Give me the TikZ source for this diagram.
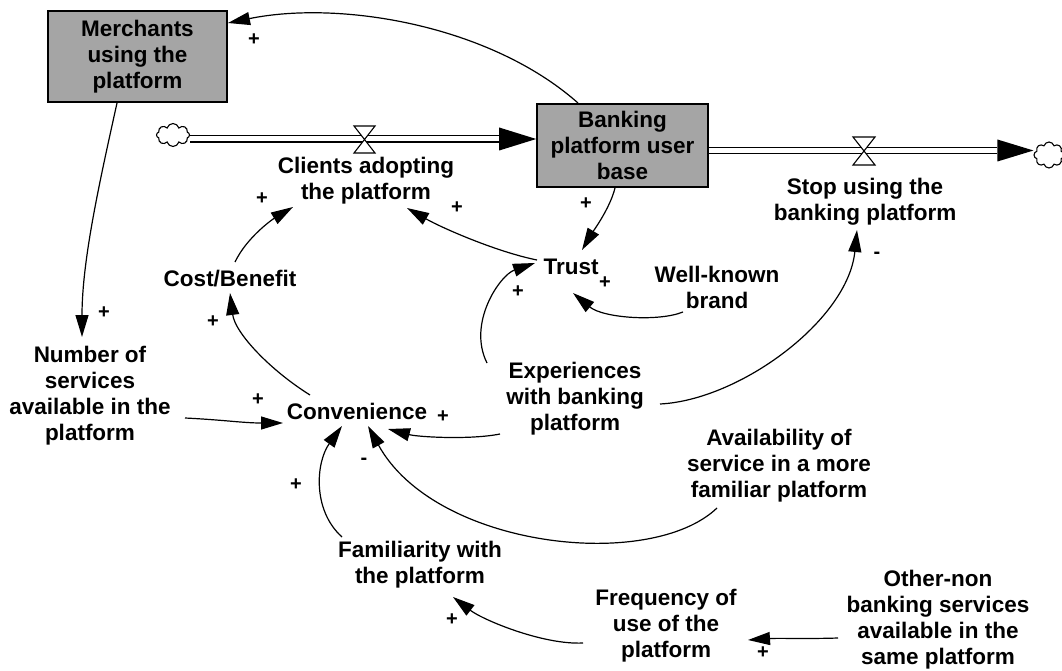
\documentclass[tikz,border=0pt]{standalone}
\usepackage{fontspec}
\setmainfont{Liberation Sans}
\usetikzlibrary{arrows.meta,shapes.symbols}
\definecolor{stockgray}{RGB}{165,165,165}
\begin{document}
\begin{tikzpicture}[x=1pt,y=-1pt,
  lbl/.style={font=\bfseries\fontsize{22.5}{26}\selectfont, align=center, inner sep=0pt},
  sgn/.style={font=\bfseries\fontsize{20}{20}\selectfont, inner sep=0pt},
  stock/.style={lbl, draw, line width=1.6pt, fill=stockgray},
  arr/.style={line width=1.2pt, -{Triangle[length=22pt,width=13pt]}},
  pipe/.style={double distance=5pt, line width=1.3pt},
  valve/.style={fill=white, draw, line width=1.1pt, line join=miter},
  src/.style={cloud, cloud puffs=8, cloud ignores aspect, draw, line width=1.1pt, inner sep=0pt, fill=white}]

\useasboundingbox (0,0) rectangle (1062,671);

% stocks
\node[stock, minimum width=179pt, minimum height=91pt] (merch) at (137.5,56.5) {Merchants\\using the\\platform};
\node[stock, minimum width=171pt, minimum height=83pt] (bank) at (622.5,145.5) {Banking\\platform user\\base};

% clouds
\node[src, minimum width=33pt, minimum height=23pt] (cloudL) at (173,135) {};
\node[src, minimum width=30pt, minimum height=26pt] (cloudR) at (1049,155) {};

% variables
\node[lbl] (clients) at (366,181) {Clients adopting\\the platform};
\node[lbl] (stop) at (865,202) {Stop using the\\banking platform};
\node[lbl] (trust) at (571,267) {Trust};
\node[lbl] (brand) at (717,287) {Well-known\\brand};
\node[lbl] (cost) at (230,279) {Cost/Benefit};
\node[lbl] (number) at (90,396) {Number of\\services\\available in the\\platform};
\node[lbl] (conv) at (357,411) {Convenience};
\node[lbl] (exp) at (575,399) {Experiences\\with banking\\platform};
\node[lbl] (avail) at (779,466) {Availability of\\service in a more\\familiar platform};
\node[lbl] (famil) at (420,565) {Familiarity with\\the platform};
\node[lbl] (freq) at (666,626) {Frequency of\\use of the\\platform};
\node[lbl] (other) at (938,620) {Other-non\\banking services\\available in the\\same platform};

% flows
\draw[pipe, shorten >=36pt] ([shift={(0,4)}]cloudL.east) -- ([shift={(0,-6.5)}]bank.west);
\fill ([shift={(0,-6.5)}]bank.west) -- ++(-37,-11.5) -- ++(0,23) -- cycle;
\draw[pipe, shorten >=36pt] ([shift={(0,5)}]bank.east) -- ([shift={(0,-4.5)}]cloudR.west);
\fill ([shift={(0,-4.5)}]cloudR.west) -- ++(-36,-11) -- ++(0,22) -- cycle;

\coordinate (vL) at (364.5,139.5);
\draw[valve] (vL) -- ++(-10.5,-13.5) -- ++(21,0) -- cycle;
\draw[valve] (vL) -- ++(-10.5,13.5) -- ++(21,0) -- cycle;
\coordinate (vR) at (864,151);
\draw[valve] (vR) -- ++(-11,-14) -- ++(22,0) -- cycle;
\draw[valve] (vR) -- ++(-11,14) -- ++(22,0) -- cycle;

% causal links
\draw[arr] ([shift={(-44.5,-42.5)}]bank.center) .. controls +(-88,-78) and +(112,-23) .. ([shift={(90.5,-33.5)}]merch.center);
\draw[arr] ([shift={(-20.5,46.5)}]merch.center) .. controls +(-17,77) and +(0,-77) .. ([shift={(-8,-59)}]number.center);
\draw[arr] ([shift={(95,22)}]number.center) .. controls +(40,2) and +(-40,0) .. ([shift={(-74,12)}]conv.center);
\draw[arr] ([shift={(-47,-16)}]conv.center) .. controls +(-40,-25) and +(5,40) .. ([shift={(0,14)}]cost.center);
\draw[arr] ([shift={(5,-17)}]cost.center) .. controls +(12,-25) and +(-20,12) .. ([shift={(-73,26)}]clients.center);
\draw[arr] ([shift={(-34,-7)}]trust.center) .. controls +(-40,-8) and +(35,20) .. ([shift={(41,27)}]clients.center);
\draw[arr] ([shift={(-7.5,42.5)}]bank.center) .. controls +(-5,20) and +(12,-20) .. ([shift={(11,-17)}]trust.center);
\draw[arr] ([shift={(-34,25)}]brand.center) .. controls +(-25,10) and +(30,25) .. ([shift={(2,26)}]trust.center);
\draw[arr] ([shift={(-88,-36)}]exp.center) .. controls +(-20,-40) and +(-35,12) .. ([shift={(-36,-4)}]trust.center);
\draw[arr] ([shift={(85,5)}]exp.center) .. controls +(80,-4) and +(-9,90) .. ([shift={(-8,28)}]stop.center);
\draw[arr] ([shift={(-75,35)}]exp.center) .. controls +(-30,6) and +(30,8) .. ([shift={(31,18)}]conv.center);
\draw[arr] ([shift={(-62,42)}]avail.center) .. controls +(-67,64) and +(67,122) .. ([shift={(11,15)}]conv.center);
\draw[arr] ([shift={(-78,-28)}]famil.center) .. controls +(-30,-27) and +(-26,36) .. ([shift={(-15,15)}]conv.center);
\draw[arr] ([shift={(-83,17)}]freq.center) .. controls +(-40,2) and +(30,23) .. ([shift={(33,32)}]famil.center);
\draw[arr] ([shift={(-100,18)}]other.center) .. controls +(-30,1) and +(30,-2) .. ([shift={(82,14)}]freq.center);

% polarity signs
\node[sgn] (p1) at (254,40) {+};
\node[sgn] (p2) at (104,313) {+};
\node[sgn] (p3) at (258,400) {+};
\node[sgn] (p4) at (213,322) {+};
\node[sgn] (p5) at (262,199) {+};
\node[sgn] (p6) at (457,208) {+};
\node[sgn] (p7) at (586,204) {+};
\node[sgn] (p8) at (605,283) {+};
\node[sgn] (p9) at (518,292) {+};
\node[sgn] (p10) at (443,417) {+};
\node[sgn] (p11) at (296,485) {+};
\node[sgn] (p12) at (452,620) {+};
\node[sgn] (p13) at (763,653) {+};
\node[sgn] (m1) at (877,255) {-};
\node[sgn] (m2) at (364,461) {-};
\end{tikzpicture}
\end{document}
